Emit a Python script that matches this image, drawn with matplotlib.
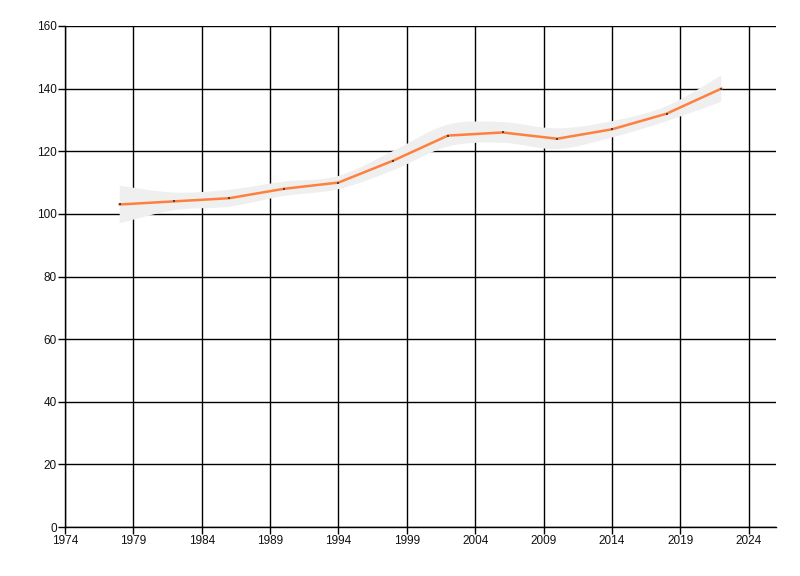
import matplotlib
matplotlib.use("Agg")
import matplotlib.pyplot as plt
from matplotlib.path import Path
from matplotlib.patches import PathPatch
import numpy as np

years = [1978, 1982, 1986, 1990, 1994, 1998, 2002, 2006, 2010, 2014, 2018, 2022]
values = [103, 104, 105, 108, 110, 117, 125, 126, 124, 127, 132, 140]
band_half = [6.0, 2.8, 2.7, 2.3, 2.1, 3.1, 3.5, 3.3, 3.3, 2.6, 2.4, 4.2]
x_ticks = [1974, 1979, 1984, 1989, 1994, 1999, 2004, 2009, 2014, 2019, 2024]
y_ticks = [0, 20, 40, 60, 80, 100, 120, 140, 160]

plt.rcParams['font.family'] = ['Liberation Sans', 'DejaVu Sans']

fig = plt.figure(figsize=(8, 5.76), dpi=100)
ax = fig.add_axes([65/800, 49/576, (776-65)/800, (527-26)/576])


def smooth_path_vertices(xs, ys):
    """Catmull-Rom control points -> cubic Bezier vertices/codes."""
    xs = np.asarray(xs, float)
    ys = np.asarray(ys, float)
    n = len(xs)
    verts = [(xs[0], ys[0])]
    codes = [Path.MOVETO]
    for i in range(n - 1):
        p0 = np.array([xs[max(i - 1, 0)], ys[max(i - 1, 0)]])
        p1 = np.array([xs[i], ys[i]])
        p2 = np.array([xs[i + 1], ys[i + 1]])
        p3 = np.array([xs[min(i + 2, n - 1)], ys[min(i + 2, n - 1)]])
        c1 = p1 + (p2 - p0) / 6.0
        c2 = p2 - (p3 - p1) / 6.0
        verts += [tuple(c1), tuple(c2), tuple(p2)]
        codes += [Path.CURVE4] * 3
    return verts, codes


upper = [v + h for v, h in zip(values, band_half)]
lower = [v - h for v, h in zip(values, band_half)]
uv, uc = smooth_path_vertices(years, upper)
lv, lc = smooth_path_vertices(years[::-1], lower[::-1])
verts = uv + [lv[0]] + lv[1:] + [uv[0]]
codes = uc + [Path.LINETO] + lc[1:] + [Path.CLOSEPOLY]
band = PathPatch(Path(verts, codes), facecolor='#efefef', edgecolor='none', zorder=1)
ax.add_patch(band)

ax.plot(years, values, color='#ff7f3f', lw=1.8, zorder=3)
ax.plot(years, values, linestyle='none', marker='s', markersize=1.5,
        markeredgewidth=0, color='#444444', zorder=4)

ax.set_xlim(1974, 2026)
ax.set_ylim(0, 160)
ax.set_xticks(x_ticks)
ax.set_yticks(y_ticks)
ax.grid(True, color='black', lw=1.0, zorder=0)
ax.set_axisbelow(True)
for s in ['top', 'right']:
    ax.spines[s].set_visible(False)
for s in ['left', 'bottom']:
    ax.spines[s].set_color('black')
    ax.spines[s].set_linewidth(1.0)
ax.tick_params(axis='both', direction='out', length=5, width=1, color='black',
               labelsize=8.5, labelcolor='#111111', pad=1)

fig.savefig('out.png', dpi=100)
